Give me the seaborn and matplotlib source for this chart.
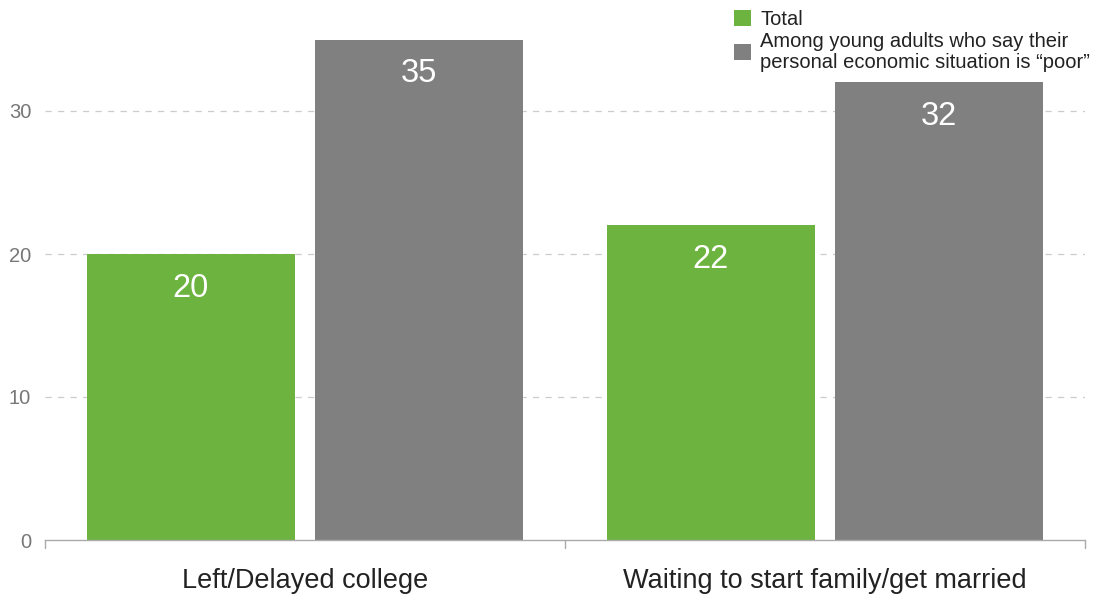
import matplotlib
matplotlib.use("Agg")
import matplotlib.pyplot as plt
import seaborn as sns
import pandas as pd

categories = ["Left/Delayed college", "Waiting to start family/get married"]
series_names = ["Total", "Among young adults who say their\npersonal economic situation is \u201cpoor\u201d"]
total_values = [20, 22]
poor_values = [35, 32]
y_ticks = [0, 10, 20, 30]
colors = ["#6db33f", "#808080"]

df = pd.DataFrame({
    "category": categories * 2,
    "series": [series_names[0]] * 2 + [series_names[1]] * 2,
    "value": total_values + poor_values,
})

sns.set_theme(style="white")
plt.rcParams["font.family"] = ["Liberation Sans", "DejaVu Sans"]

fig = plt.figure(figsize=(10.93, 5.96), dpi=100)
ax = fig.add_axes([45 / 1093, 56 / 596, 1040 / 1093, 540 / 596])

sns.barplot(data=df, x="category", y="value", hue="series", order=categories,
            hue_order=series_names, palette=colors, width=0.877, gap=0.087,
            saturation=1, errorbar=None, legend=True, linewidth=0, ax=ax)

ax.set_xlim(-0.5, 1.5)
ax.set_ylim(0, 540 / 14.3)
ax.set_yticks(y_ticks)
ax.set_yticklabels([str(t) for t in y_ticks], color="#777777", fontsize=14.5)
ax.tick_params(axis="y", length=0, pad=10)
for t in y_ticks[1:]:
    ax.axhline(t, color="#cccccc", lw=0.9, ls=(0, (5, 5)), zorder=0)

ax.set_xticks([0, 1])
ax.set_xticklabels(categories, fontsize=19.5, color="#222222")
ax.tick_params(axis="x", length=0, pad=20)
for xb in [-0.5, 0.5, 1.5]:
    ax.plot([xb, xb], [0, -0.55], color="#aaaaaa", lw=1, clip_on=False,
            transform=ax.transData)

for s in ["top", "right", "left"]:
    ax.spines[s].set_visible(False)
ax.spines["bottom"].set_color("#aaaaaa")
ax.spines["bottom"].set_linewidth(1)
ax.set_xlabel("")
ax.set_ylabel("")

for cont in ax.containers:
    for bar in cont:
        h = bar.get_height()
        ax.text(bar.get_x() + bar.get_width() / 2, h - 2.4, f"{h:.0f}",
                ha="center", va="center", color="white", fontsize=23.5)

handles, labels = ax.get_legend_handles_labels()
ax.get_legend().remove()
leg = fig.legend(handles, labels, loc="upper left", bbox_to_anchor=(734 / 1093, 1 - 10 / 596),
                 frameon=False, fontsize=14.5, handlelength=0.85, handleheight=0.85,
                 handletextpad=0.45, labelspacing=0.15, borderaxespad=0, borderpad=0)
for tx in leg.get_texts():
    tx.set_color("#222222")
    tx.set_linespacing(1.1)

fig.savefig("out.png", dpi=100)
